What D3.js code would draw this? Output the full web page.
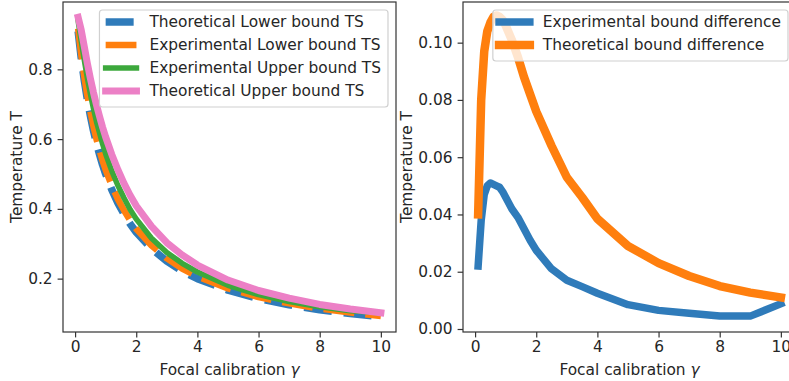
<!DOCTYPE html>
<html>
<head>
<meta charset="utf-8">
<script src="https://cdn.jsdelivr.net/npm/d3@7"></script>
<style>
  body { margin: 0; background: #fff; }
  svg { display: block; }
  text { font-family: "DejaVu Sans", sans-serif; fill: #262626; }
</style>
</head>
<body>
<svg id="chart" width="789" height="381"></svg>
<script>
// focal calibration gamma, shared by every series
const gammas = [0.1, 0.2, 0.3, 0.4, 0.5, 0.6, 0.7, 0.8, 0.9, 1.0, 1.2, 1.4, 1.6, 1.8, 2.0, 2.5, 3, 3.5, 4, 5, 6, 7, 8, 9, 10];

// left panel
const theoreticalLower = [0.909, 0.833, 0.769, 0.714, 0.667, 0.625, 0.588, 0.556, 0.526, 0.500, 0.455, 0.417, 0.385, 0.357, 0.333, 0.286, 0.250, 0.222, 0.200, 0.167, 0.143, 0.125, 0.111, 0.100, 0.091];
const experimentalLower = [0.917, 0.843, 0.780, 0.726, 0.679, 0.637, 0.600, 0.568, 0.538, 0.512, 0.467, 0.428, 0.396, 0.367, 0.343, 0.295, 0.258, 0.229, 0.206, 0.172, 0.147, 0.129, 0.114, 0.103, 0.093];
const experimentalUpper = [0.939, 0.881, 0.827, 0.776, 0.730, 0.688, 0.650, 0.618, 0.586, 0.558, 0.509, 0.467, 0.431, 0.398, 0.371, 0.316, 0.275, 0.244, 0.219, 0.181, 0.154, 0.134, 0.119, 0.108, 0.102];
const theoreticalUpper = [0.949, 0.913, 0.866, 0.818, 0.774, 0.734, 0.698, 0.665, 0.634, 0.606, 0.556, 0.512, 0.473, 0.439, 0.409, 0.350, 0.303, 0.268, 0.239, 0.196, 0.166, 0.144, 0.126, 0.113, 0.102];

// right panel
const experimentalDiff = [0.022, 0.038, 0.047, 0.050, 0.051, 0.0505, 0.050, 0.0495, 0.048, 0.046, 0.042, 0.039, 0.035, 0.031, 0.0275, 0.021, 0.017, 0.0148, 0.0125, 0.0085, 0.0065, 0.0055, 0.0045, 0.0045, 0.0088];
const theoreticalDiff = [0.040, 0.080, 0.097, 0.104, 0.107, 0.109, 0.1095, 0.109, 0.108, 0.106, 0.101, 0.095, 0.088, 0.082, 0.076, 0.064, 0.053, 0.046, 0.0385, 0.029, 0.023, 0.0185, 0.015, 0.0127, 0.011];

const xTicks = [0, 2, 4, 6, 8, 10];
const leftYTicks = [0.2, 0.4, 0.6, 0.8];
const rightYTicks = [0, 0.02, 0.04, 0.06, 0.08, 0.10];

const fontSize = 15.4;
const plotTop = 2;
const plotBottom = 332;
const tickLen = 5.4;

const svg = d3.select('#chart');

const drawPanel = (cfg) => {
    const x = d3.scaleLinear().domain([-0.395, 10.495]).range([cfg.left, cfg.right]);
    const y = d3.scaleLinear().domain(cfg.yDomain).range([plotBottom, plotTop]);
    const g = svg.append('g');

    const line = d3.line().x((d) => x(d[0])).y((d) => y(d[1]));
    cfg.series.forEach((s) => {
        g.append('path')
            .datum(gammas.map((gm, i) => [gm, s.values[i]]))
            .attr('d', line)
            .attr('fill', 'none')
            .attr('stroke', s.color)
            .attr('stroke-width', s.width)
            .attr('stroke-dasharray', s.dash || null)
            .attr('stroke-linecap', s.dash ? 'butt' : 'square')
            .attr('stroke-linejoin', 'round');
    });

    // spines
    g.append('rect')
        .attr('x', cfg.left).attr('y', plotTop)
        .attr('width', cfg.right - cfg.left).attr('height', plotBottom - plotTop)
        .attr('fill', 'none').attr('stroke', '#333').attr('stroke-width', 1.2);

    const xAxis = d3.axisBottom(x).tickValues(xTicks).tickSizeInner(tickLen).tickSizeOuter(0).tickPadding(4).tickFormat(d3.format('d'));
    const gx = g.append('g').attr('transform', 'translate(0,' + plotBottom + ')').call(xAxis);
    const yAxis = d3.axisLeft(y).tickValues(cfg.yTicks).tickSizeInner(tickLen).tickSizeOuter(0).tickPadding(5).tickFormat(d3.format(cfg.yFormat));
    const gy = g.append('g').attr('transform', 'translate(' + cfg.left + ',0)').call(yAxis);
    [gx, gy].forEach((ax) => {
        ax.select('.domain').remove();
        ax.selectAll('line').attr('stroke', '#333').attr('stroke-width', 1.2);
        ax.selectAll('text').attr('font-size', fontSize).attr('fill', '#262626').style('font-family', '"DejaVu Sans", sans-serif');
    });

    // axis labels
    const xl = g.append('text')
        .attr('x', (cfg.left + cfg.right) / 2)
        .attr('y', 375)
        .attr('text-anchor', 'middle')
        .attr('font-size', fontSize);
    xl.append('tspan').text('Focal calibration ');
    xl.append('tspan').attr('font-style', 'italic').text('γ');

    g.append('text')
        .attr('transform', 'translate(' + cfg.yLabelX + ',' + (plotTop + plotBottom) / 2 + ') rotate(-90)')
        .attr('text-anchor', 'middle')
        .attr('font-size', fontSize)
        .text('Temperature T');

    drawLegend(g, cfg.series, cfg.right - 8, 10);
};

const drawLegend = (g, items, rightEdge, top) => {
    const rowH = 23;
    const lg = g.append('g');
    const frame = lg.append('rect');
    const texts = items.map((s, i) => lg.append('text')
        .attr('y', top + 12 + i * rowH + 5.3)
        .attr('font-size', fontSize)
        .text(s.label));
    const maxW = d3.max(texts, (t) => t.node().getComputedTextLength());
    const boxW = 6.2 + 43.8 + maxW + 7;
    const left = rightEdge - boxW;
    frame.attr('x', left).attr('y', top)
        .attr('width', boxW).attr('height', items.length * rowH + 5)
        .attr('rx', 3).attr('ry', 3)
        .attr('fill', '#fff').attr('fill-opacity', 0.8)
        .attr('stroke', '#d0d0d0').attr('stroke-width', 1.2);
    texts.forEach((t) => t.attr('x', left + 50));
    items.forEach((s, i) => {
        const cy = top + 12 + i * rowH;
        lg.append('line')
            .attr('x1', left + 6.2).attr('x2', left + 6.2 + 30.8)
            .attr('y1', cy).attr('y2', cy)
            .attr('stroke', s.color)
            .attr('stroke-width', s.width)
            .attr('stroke-dasharray', s.dash || null)
            .attr('stroke-linecap', s.dash ? 'butt' : 'square');
    });
};

drawPanel({
    left: 63, right: 396,
    yDomain: [0.047, 0.993],
    yTicks: leftYTicks, yFormat: '.1f',
    yLabelX: 21.5,
    series: [
        { label: 'Theoretical Lower bound TS', values: theoreticalLower, color: '#2f7bba', width: 7.5, dash: '28,12' },
        { label: 'Experimental Lower bound TS', values: experimentalLower, color: '#ff7f0e', width: 6.5, dash: '31,11' },
        { label: 'Experimental Upper bound TS', values: experimentalUpper, color: '#3ca83c', width: 5.5 },
        { label: 'Theoretical Upper bound TS', values: theoreticalUpper, color: '#ec80c6', width: 7 }
    ]
});

drawPanel({
    left: 463, right: 796,
    yDomain: [-0.00105, 0.1142],
    yTicks: rightYTicks, yFormat: '.2f',
    yLabelX: 411.5,
    series: [
        { label: 'Experimental bound difference', values: experimentalDiff, color: '#2f7bba', width: 7.5 },
        { label: 'Theoretical bound difference', values: theoreticalDiff, color: '#ff7f0e', width: 8.5 }
    ]
});
</script>
</body>
</html>
